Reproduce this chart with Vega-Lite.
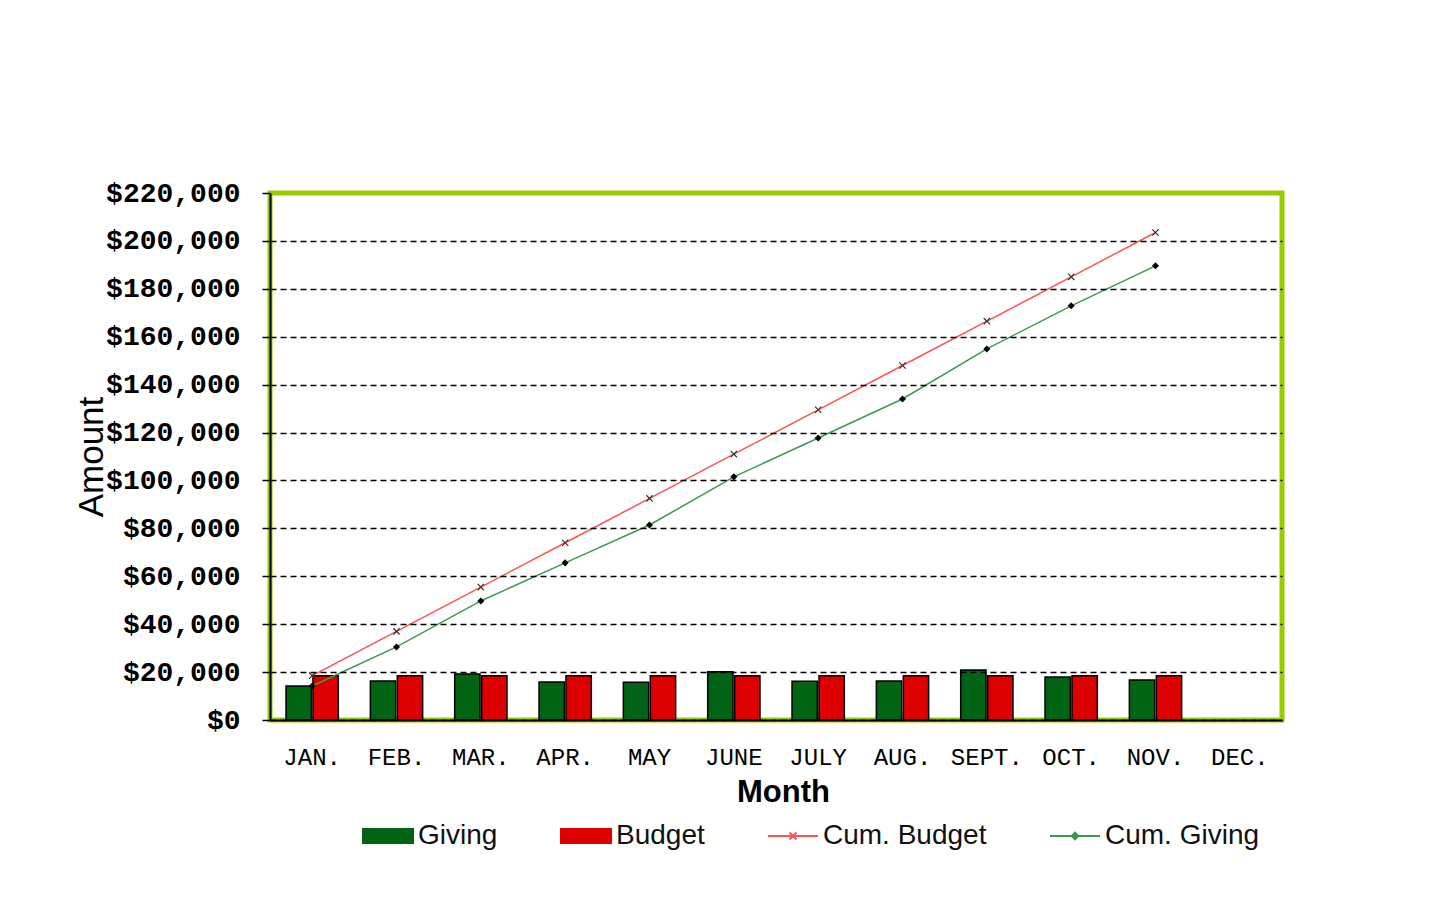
{
  "$schema": "https://vega.github.io/schema/vega-lite/v6.json",
  "width": 1012,
  "height": 527,
  "autosize": {"type": "none"},
  "padding": {"left": 270, "top": 193, "right": 158, "bottom": 187},
  "background": "white",
  "config": {"view": {"stroke": "#99CC00", "strokeWidth": 5}},
  "data": {
    "values": [
      {"month": "JAN.", "series": "Giving", "value": 14200},
      {"month": "FEB.", "series": "Giving", "value": 16300},
      {"month": "MAR.", "series": "Giving", "value": 19200},
      {"month": "APR.", "series": "Giving", "value": 15900},
      {"month": "MAY", "series": "Giving", "value": 15800},
      {"month": "JUNE", "series": "Giving", "value": 20100},
      {"month": "JULY", "series": "Giving", "value": 16200},
      {"month": "AUG.", "series": "Giving", "value": 16300},
      {"month": "SEPT.", "series": "Giving", "value": 20900},
      {"month": "OCT.", "series": "Giving", "value": 18000},
      {"month": "NOV.", "series": "Giving", "value": 16700},
      {"month": "JAN.", "series": "Budget", "value": 18500},
      {"month": "FEB.", "series": "Budget", "value": 18500},
      {"month": "MAR.", "series": "Budget", "value": 18500},
      {"month": "APR.", "series": "Budget", "value": 18500},
      {"month": "MAY", "series": "Budget", "value": 18500},
      {"month": "JUNE", "series": "Budget", "value": 18500},
      {"month": "JULY", "series": "Budget", "value": 18500},
      {"month": "AUG.", "series": "Budget", "value": 18500},
      {"month": "SEPT.", "series": "Budget", "value": 18500},
      {"month": "OCT.", "series": "Budget", "value": 18500},
      {"month": "NOV.", "series": "Budget", "value": 18500},
      {"month": "JAN.", "series": "Cum. Budget", "value": 18500},
      {"month": "FEB.", "series": "Cum. Budget", "value": 37000},
      {"month": "MAR.", "series": "Cum. Budget", "value": 55500},
      {"month": "APR.", "series": "Cum. Budget", "value": 74000},
      {"month": "MAY", "series": "Cum. Budget", "value": 92500},
      {"month": "JUNE", "series": "Cum. Budget", "value": 111000},
      {"month": "JULY", "series": "Cum. Budget", "value": 129500},
      {"month": "AUG.", "series": "Cum. Budget", "value": 148000},
      {"month": "SEPT.", "series": "Cum. Budget", "value": 166500},
      {"month": "OCT.", "series": "Cum. Budget", "value": 185000},
      {"month": "NOV.", "series": "Cum. Budget", "value": 203500},
      {"month": "JAN.", "series": "Cum. Giving", "value": 14200},
      {"month": "FEB.", "series": "Cum. Giving", "value": 30500},
      {"month": "MAR.", "series": "Cum. Giving", "value": 49700},
      {"month": "APR.", "series": "Cum. Giving", "value": 65600},
      {"month": "MAY", "series": "Cum. Giving", "value": 81400},
      {"month": "JUNE", "series": "Cum. Giving", "value": 101500},
      {"month": "JULY", "series": "Cum. Giving", "value": 117700},
      {"month": "AUG.", "series": "Cum. Giving", "value": 134000},
      {"month": "SEPT.", "series": "Cum. Giving", "value": 154900},
      {"month": "OCT.", "series": "Cum. Giving", "value": 172900},
      {"month": "NOV.", "series": "Cum. Giving", "value": 189600}
    ]
  },
  "encoding": {
    "x": {
      "field": "month",
      "type": "nominal",
      "scale": {
        "domain": ["JAN.", "FEB.", "MAR.", "APR.", "MAY", "JUNE", "JULY", "AUG.", "SEPT.", "OCT.", "NOV.", "DEC."],
        "paddingInner": 0.38,
        "paddingOuter": 0.19
      },
      "axis": {
        "title": "Month",
        "labelAngle": 0,
        "labelFont": "Liberation Mono",
        "labelFontSize": 24,
        "labelColor": "black",
        "labelPadding": 25,
        "ticks": false,
        "domain": true,
        "domainColor": "black",
        "domainWidth": 2,
        "titleFont": "Liberation Sans",
        "titleFontSize": 31,
        "titleFontWeight": "bold",
        "titleColor": "black",
        "titlePadding": 8,
        "titleX": 513,
        "zindex": 1
      }
    },
    "y": {
      "field": "value",
      "type": "quantitative",
      "stack": null,
      "scale": {"domain": [0, 220000], "nice": false},
      "axis": {
        "title": "Amount",
        "values": [0, 20000, 40000, 60000, 80000, 100000, 120000, 140000, 160000, 180000, 200000, 220000],
        "format": "$,.0f",
        "labelFont": "Liberation Mono",
        "labelFontWeight": "bold",
        "labelFontSize": 28,
        "labelColor": "black",
        "labelPadding": 22,
        "tickSize": 8,
        "tickColor": "black",
        "tickWidth": 1.5,
        "domainColor": "black",
        "domainWidth": 2,
        "grid": true,
        "gridColor": {"condition": {"test": "datum.value >= 220000", "value": "transparent"}, "value": "black"},
        "gridDash": [6, 4],
        "gridWidth": 1.5,
        "titleFont": "Liberation Sans",
        "titleFontSize": 35,
        "titleFontWeight": "normal",
        "titleColor": "black",
        "titleX": -168,
        "titleBaseline": "alphabetic",
        "zindex": 1
      }
    }
  },
  "layer": [
    {
      "transform": [{"filter": "datum.series == 'Giving' || datum.series == 'Budget'"}],
      "mark": {"type": "bar", "stroke": "black", "strokeWidth": 1.5},
      "encoding": {
        "xOffset": {"field": "series", "type": "nominal", "scale": {"domain": ["Giving", "Budget"], "paddingInner": 0.06}},
        "color": {
          "field": "series",
          "type": "nominal",
          "scale": {
            "domain": ["Giving", "Budget", "Cum. Budget", "Cum. Giving"],
            "range": ["#006414", "#DD0000", "#FF5252", "#3C9A50"]
          },
          "legend": {
            "title": null,
            "orient": "none",
            "direction": "horizontal",
            "legendX": 92,
            "legendY": 617,
            "symbolSize": 2500,
            "labelFont": "Liberation Sans",
            "labelFontSize": 28,
            "labelColor": "#111",
            "labelOffset": 4,
            "labelLimit": 400,
            "columnPadding": 59,
            "encode": {
              "symbols": {
                "update": {
                  "shape": {"signal": "datum.value == 'Giving' || datum.value == 'Budget' ? 'M-1,-0.28H1V0.28H-1Z' : datum.value == 'Cum. Budget' ? 'M-1,0H1M-0.14,-0.14L0.14,0.14M-0.14,0.14L0.14,-0.14' : 'M-1,0H1M0,-0.13L0.13,0L0,0.13L-0.13,0Z'"},
                  "fill": {"signal": "datum.value == 'Giving' ? '#006414' : datum.value == 'Budget' ? '#DD0000' : datum.value == 'Cum. Giving' ? '#000000' : 'transparent'"},
                  "stroke": {"signal": "datum.value == 'Giving' || datum.value == 'Budget' ? '#111111' : datum.value == 'Cum. Budget' ? '#FF5252' : '#3C9A50'"},
                  "strokeWidth": {"value": 2},
                  "fillOpacity": {"value": 1},
                  "opacity": {"value": 1}
                }
              }
            }
          }
        }
      }
    },
    {
      "transform": [{"filter": "datum.series == 'Cum. Budget' || datum.series == 'Cum. Giving'"}],
      "mark": {"type": "line", "strokeWidth": 1.5},
      "encoding": {
        "color": {
          "field": "series",
          "type": "nominal",
          "legend": {
            "title": null,
            "orient": "none",
            "direction": "horizontal",
            "legendX": 92,
            "legendY": 617,
            "symbolSize": 2500,
            "labelFont": "Liberation Sans",
            "labelFontSize": 28,
            "labelColor": "#111",
            "labelOffset": 4,
            "labelLimit": 400,
            "columnPadding": 59,
            "encode": {
              "symbols": {
                "update": {
                  "shape": {"signal": "datum.value == 'Giving' || datum.value == 'Budget' ? 'M-1,-0.28H1V0.28H-1Z' : datum.value == 'Cum. Budget' ? 'M-1,0H1M-0.14,-0.14L0.14,0.14M-0.14,0.14L0.14,-0.14' : 'M-1,0H1M0,-0.13L0.13,0L0,0.13L-0.13,0Z'"},
                  "fill": {"signal": "datum.value == 'Giving' ? '#006414' : datum.value == 'Budget' ? '#DD0000' : datum.value == 'Cum. Giving' ? '#000000' : 'transparent'"},
                  "stroke": {"signal": "datum.value == 'Giving' || datum.value == 'Budget' ? '#111111' : datum.value == 'Cum. Budget' ? '#FF5252' : '#3C9A50'"},
                  "strokeWidth": {"value": 2},
                  "fillOpacity": {"value": 1},
                  "opacity": {"value": 1}
                }
              }
            }
          }
        }
      }
    },
    {
      "transform": [{"filter": "datum.series == 'Cum. Budget'"}],
      "mark": {"type": "point", "shape": "M-1,-1L1,1M-1,1L1,-1", "filled": false, "stroke": "#333333", "strokeWidth": 1.2, "size": 40, "opacity": 1}
    },
    {
      "transform": [{"filter": "datum.series == 'Cum. Giving'"}],
      "mark": {"type": "point", "shape": "diamond", "filled": true, "fill": "#000000", "size": 50, "opacity": 1}
    }
  ]
}
